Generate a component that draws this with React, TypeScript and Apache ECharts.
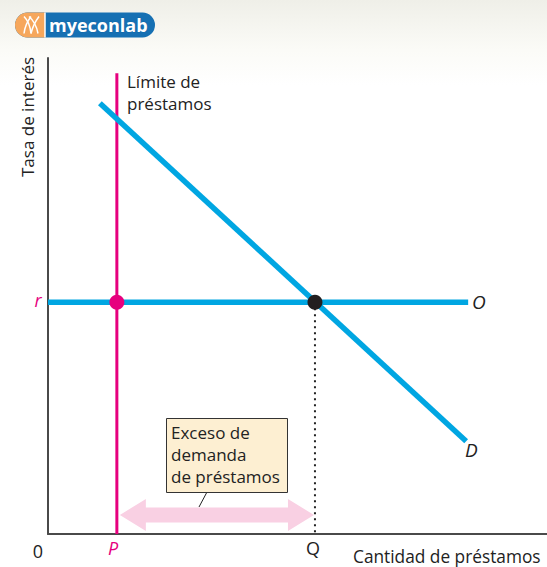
import React, { useEffect, useRef } from "react";
import * as echarts from "echarts";

// Data (abstract units: x 0..10 quantity of loans, y 0..10 interest rate)
const limitX = 1.38; // P
const eqX = 5.35; // Q
const rateY = 4.87; // r
const supplyLine = [[0, 4.87], [8.42, 4.87]];
const demandLine = [[1.04, 9.05], [8.38, 1.95]];
const limitLine = [[1.38, 0], [1.38, 9.68]];
const dottedLine = [[5.35, 4.87], [5.35, 0]];
const excessArrow = [[1.44, 0.4], [5.33, 0.4]];
const xTickLabels = ["0", "P", "Q"];
const annotationLines = ["Exceso de", "demanda", "de préstamos"];

const BLUE = "#00a6e2";
const PINK = "#e6007e";
const FONT = "'Open Sans', 'Noto Sans', sans-serif";

export default function App() {
  const ref = useRef<HTMLDivElement>(null);
  useEffect(() => {
    const chart = echarts.init(ref.current!, null, { renderer: "svg" });
    const option: any = {
      animation: false,
      backgroundColor: "transparent",
      grid: { left: 48, top: 58, right: 0, bottom: 33 },
      xAxis: {
        type: "value", min: 0, max: 10,
        axisLine: { show: true, lineStyle: { color: "#4a4a4a", width: 2 } },
        axisTick: { show: false }, axisLabel: { show: false }, splitLine: { show: false },
      },
      yAxis: {
        type: "value", min: 0, max: 10,
        axisLine: { show: true, lineStyle: { color: "#4a4a4a", width: 2 } },
        axisTick: { show: false }, axisLabel: { show: false }, splitLine: { show: false },
      },
      series: [
        {
          type: "custom",
          renderItem: (params: any, api: any) => {
            const a = api.coord(excessArrow[0]);
            const b = api.coord(excessArrow[1]);
            const y = a[1];
            const hl = 26, hh = 16, bh = 7.5;
            return {
              type: "polygon",
              shape: {
                points: [
                  [a[0], y], [a[0] + hl, y - hh], [a[0] + hl, y - bh],
                  [b[0] - hl, y - bh], [b[0] - hl, y - hh], [b[0], y],
                  [b[0] - hl, y + hh], [b[0] - hl, y + bh], [a[0] + hl, y + bh],
                  [a[0] + hl, y + hh],
                ],
              },
              style: { fill: "#f9d0e3" },
            };
          },
          data: [[0, 0]],
          silent: true,
          z: 1,
        },
        {
          type: "line", data: dottedLine, symbol: "none",
          lineStyle: { color: "#222", width: 2, type: [2, 4] }, z: 2,
        },
        {
          type: "line", data: limitLine, symbol: "none",
          lineStyle: { color: PINK, width: 3 }, z: 3,
        },
        {
          type: "line", data: supplyLine, symbol: "none",
          lineStyle: { color: BLUE, width: 5.5, cap: "butt" }, z: 4,
        },
        {
          type: "line", data: demandLine, symbol: "none",
          lineStyle: { color: BLUE, width: 5.5, cap: "butt" }, z: 4,
        },
        {
          type: "scatter", symbolSize: 15,
          data: [
            { value: [limitX, rateY], itemStyle: { color: PINK, opacity: 1 } },
            { value: [eqX, rateY], itemStyle: { color: "#231f20", opacity: 1 } },
          ],
          z: 5,
        },
      ],
      graphic: [
        // logo
        {
          type: "group", left: 15, top: 10,
          children: [
            { type: "rect", shape: { x: 0, y: 0, width: 140, height: 25, r: 12.5 }, style: { fill: "#1670b3" } },
            { type: "rect", shape: { x: 0, y: 0, width: 30, height: 25, r: [12.5, 0, 0, 12.5] }, style: { fill: "#f6a75c" } },
            { type: "line", shape: { x1: 30, y1: 0, x2: 30, y2: 25 }, style: { stroke: "#fff", lineWidth: 1.5 } },
            { type: "bezierCurve", shape: { x1: 9, y1: 4, x2: 16, y2: 21, cpx1: 15, cpy1: 10 }, style: { stroke: "#fff", lineWidth: 1.5, fill: null } },
            { type: "bezierCurve", shape: { x1: 16, y1: 4, x2: 9, y2: 21, cpx1: 10, cpy1: 12 }, style: { stroke: "#fff", lineWidth: 1.5, fill: null } },
            { type: "bezierCurve", shape: { x1: 14, y1: 4, x2: 23, y2: 21, cpx1: 21, cpy1: 10 }, style: { stroke: "#fff", lineWidth: 1.5, fill: null } },
            { type: "bezierCurve", shape: { x1: 24, y1: 4, x2: 16, y2: 21, cpx1: 18, cpy1: 12 }, style: { stroke: "#fff", lineWidth: 1.5, fill: null } },
            {
              type: "text", x: 34, y: 12.5,
              style: {
                text: "myeconlab", fill: "#fff", font: `bold 18px ${FONT}`,
                verticalAlign: "middle", stroke: "#0f5f9c", lineWidth: 0.5,
              },
            },
          ],
        },
        // axis title
        {
          type: "text", x: 27, y: 117, rotation: Math.PI / 2,
          style: { text: "Tasa de interés", font: `17px ${FONT}`, fill: "#222", align: "center", verticalAlign: "middle" },
        },
        {
          type: "text", x: 353, y: 556,
          style: { text: "Cantidad de préstamos", font: `17.3px ${FONT}`, fill: "#222", verticalAlign: "middle" },
        },
        // tick labels
        { type: "text", x: 38, y: 551, style: { text: xTickLabels[0], font: `18px ${FONT}`, fill: "#222", align: "center", verticalAlign: "middle" } },
        { type: "text", x: 113, y: 548, style: { text: xTickLabels[1], font: `italic 18px ${FONT}`, fill: PINK, align: "center", verticalAlign: "middle" } },
        { type: "text", x: 313, y: 548, style: { text: xTickLabels[2], font: `18px ${FONT}`, fill: "#222", align: "center", verticalAlign: "middle" } },
        { type: "text", x: 38, y: 300, style: { text: "r", font: `italic 18px ${FONT}`, fill: PINK, align: "center", verticalAlign: "middle" } },
        // curve labels
        { type: "text", x: 472, y: 302, style: { text: "O", font: `italic 19px ${FONT}`, fill: "#222", verticalAlign: "middle" } },
        { type: "text", x: 465, y: 450, style: { text: "D", font: `italic 19px ${FONT}`, fill: "#222", verticalAlign: "middle" } },
        { type: "text", x: 127, y: 81, style: { text: "Límite de", font: `17px ${FONT}`, fill: "#222", verticalAlign: "middle" } },
        { type: "text", x: 127, y: 103, style: { text: "préstamos", font: `17px ${FONT}`, fill: "#222", verticalAlign: "middle" } },
        // annotation box
        { type: "line", shape: { x1: 207, y1: 492, x2: 199, y2: 507 }, style: { stroke: "#222", lineWidth: 1 }, z: 10 },
        {
          type: "rect", shape: { x: 166.5, y: 418.5, width: 121, height: 74 },
          style: { fill: "#fdefd2", stroke: "#333", lineWidth: 1 }, z: 10,
        },
        ...annotationLines.map((t, i) => ({
          type: "text", x: 171, y: 432 + i * 22, z: 11,
          style: { text: t, font: `17px ${FONT}`, fill: "#222", verticalAlign: "middle" },
        })),
      ],
    };
    chart.setOption(option);
    return () => chart.dispose();
  }, []);
  return (
    <div
      style={{
        position: "fixed", left: 0, top: 0, width: 547, height: 567,
        background: "linear-gradient(to bottom, #efefe8 0px, #fbfbf7 50px, #ffffff 85px)",
      }}
    >
      <div ref={ref} style={{ width: 547, height: 567 }} />
    </div>
  );
}
